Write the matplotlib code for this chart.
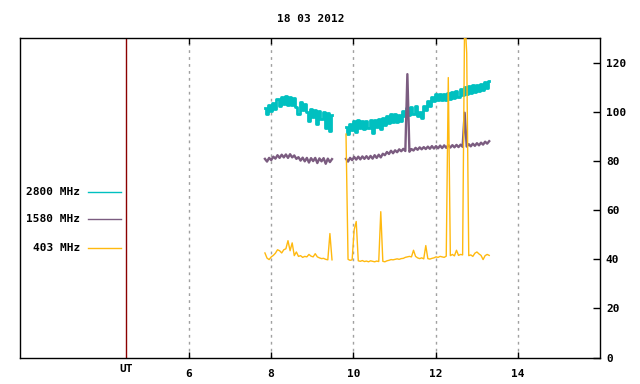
import numpy as np
import matplotlib
matplotlib.use("Agg")
import matplotlib.pyplot as plt

plt.rcParams["font.family"] = "DejaVu Sans Mono"
plt.rcParams["font.weight"] = "bold"

title = "18 03 2012"
labels = ["2800 MHz", "1580 MHz", "403 MHz"]
colors = ["#00c0c0", "#7b5c80", "#ffb90f"]
widths = [2.0, 1.7, 1.0]
styles = ["steps-mid", "default", "default"]
ut_pos = 4.47
xticks = [6, 8, 10, 12, 14]
yticks = [0, 20, 40, 60, 80, 100, 120]

# sample times of the two recording blocks (hours UT)
t1 = np.linspace(7.85, 9.48, 33)
t2 = np.linspace(9.82, 13.30, 71)

# 2800 MHz
f2800_a = [101.8, 99.0, 103.0, 100.2, 103.8, 101.2, 105.3, 102.6, 106.2, 103.2,
           106.4, 103.0, 106.1, 102.8, 105.7, 101.9, 99.1, 104.2, 100.6, 103.3,
           99.8, 96.3, 101.3, 98.0, 101.0, 95.0, 100.5, 97.1, 100.0, 93.6,
           99.6, 92.2, 98.8]
f2800_b = [93.8, 91.2, 95.3, 92.8, 96.3, 91.8, 96.6, 93.3, 96.4, 93.2,
           96.5, 93.3, 96.6, 91.6, 96.8, 93.8, 97.1, 92.9, 97.4, 94.6,
           98.4, 95.5, 99.0, 96.0, 99.2, 95.8, 98.8, 96.3, 100.3, 98.2,
           101.7, 98.7, 102.0, 99.0, 102.4, 98.4, 100.0, 97.7, 102.6, 100.9,
           104.5, 102.6, 106.2, 104.5, 107.4, 104.7, 107.5, 104.7, 107.5, 104.8,
           107.7, 105.1, 108.1, 105.5, 108.5, 106.0, 109.2, 106.9, 110.0, 107.4,
           110.5, 107.9, 110.8, 108.1, 110.9, 108.4, 111.4, 108.9, 112.0, 109.8,
           112.6]

# 1580 MHz
f1580_a = [80.9, 79.8, 81.3, 80.4, 81.8, 81.0, 82.4, 81.3, 82.6, 81.5,
           82.7, 81.3, 82.8, 81.5, 82.3, 80.9, 81.6, 80.2, 81.4, 79.9,
           81.3, 79.4, 81.2, 80.0, 81.3, 79.2, 81.1, 79.9, 81.2, 78.9,
           81.0, 79.6, 80.8]
f1580_b = [80.9, 79.8, 81.3, 80.4, 81.7, 80.6, 81.8, 80.7, 81.9, 80.9,
           82.0, 80.9, 82.1, 81.0, 82.4, 81.3, 82.6, 81.5, 83.0, 82.4,
           83.7, 82.9, 84.2, 83.2, 84.4, 83.6, 84.8, 84.0, 85.0, 84.1,
           115.4, 83.8, 84.9, 84.3, 85.4, 84.6, 85.6, 84.8, 85.7, 84.9,
           85.9, 85.0, 86.1, 85.1, 86.1, 85.2, 86.3, 85.3, 86.4, 85.4,
           86.5, 85.5, 86.5, 85.6, 86.6, 85.7, 86.7, 85.8, 99.7, 85.9,
           86.9, 86.0, 87.1, 86.2, 87.3, 86.4, 87.5, 86.7, 87.9, 87.1,
           88.1]

# 403 MHz
f403_a = [42.6, 40.5, 39.9, 41.0, 41.6, 42.5, 43.9, 43.5, 42.6, 43.9,
          44.3, 47.6, 43.5, 46.7, 41.5, 43.0, 41.2, 41.5, 40.8, 41.2,
          41.0, 42.0, 41.3, 41.0, 42.3, 41.0, 40.6, 40.3, 40.4, 40.0,
          39.8, 50.5, 39.8]
f403_b = [91.0, 40.0, 39.6, 39.8, 52.1, 55.4, 39.4, 39.2, 39.5, 39.1,
          39.3, 39.0, 39.4, 39.2, 39.0, 39.3, 39.1, 59.4, 39.2, 39.0,
          39.4, 39.6, 39.9, 39.8, 40.0, 40.2, 40.0, 40.3, 40.4, 40.8,
          41.0, 41.2, 41.0, 43.7, 41.2, 40.6, 40.3, 40.6, 40.2, 45.6,
          40.3, 40.1, 40.4, 40.6, 41.0, 40.8, 41.2, 41.0, 40.8, 41.3,
          114.0, 41.5, 42.0, 41.4, 43.7, 41.6, 42.0, 41.8, 140.0, 124.0,
          41.5, 41.8, 41.2, 42.5, 43.0, 42.2, 41.6, 39.9, 41.5, 42.0,
          41.6]

series = [(f2800_a, f2800_b), (f1580_a, f1580_b), (f403_a, f403_b)]

fig = plt.figure(figsize=(6.4, 3.84), dpi=100)
ax = fig.add_axes([0.032, 0.0688, 0.906, 0.8315])

for (seg_a, seg_b), c, w, ds in zip(series, colors, widths, styles):
    ax.plot(t1, seg_a, color=c, lw=w, drawstyle=ds, zorder=3)
    ax.plot(t2, seg_b, color=c, lw=w, drawstyle=ds, zorder=3)

ax.axvline(ut_pos, color="#8b0000", lw=1, zorder=2)
ax.text(ut_pos, -0.037, "UT", transform=ax.get_xaxis_transform(),
        ha="center", va="center", fontsize=8)

# key on the left, text right-aligned, sample line after it
rows = [0.5196, 0.4331, 0.3423]
for lab, c, yy in zip(labels, colors, rows):
    ax.text(0.1026, yy, lab, transform=ax.transAxes, ha="right",
            va="center", fontsize=8)
    ax.plot([0.117, 0.1728], [yy, yy], color=c, lw=1,
            transform=ax.transAxes, clip_on=False)

ax.set_xlim(1.91, 16.0)
ax.set_ylim(0, 130)
ax.set_xticks(xticks)
ax.set_yticks(yticks)
ax.xaxis.grid(True, color="#a0a0a0", linestyle=(0, (2, 3)), lw=1)
ax.set_axisbelow(True)
ax.yaxis.tick_right()
ax.tick_params(axis="x", direction="in", length=4, width=1, top=True,
               labelsize=8, pad=8)
ax.tick_params(axis="y", direction="in", length=5, width=1, left=False,
               labelsize=8, pad=4)
for s in ax.spines.values():
    s.set_linewidth(1)

fig.text(0.485, 0.9505, title, ha="center", va="center", fontsize=8)

fig.savefig("out.png", dpi=100)
